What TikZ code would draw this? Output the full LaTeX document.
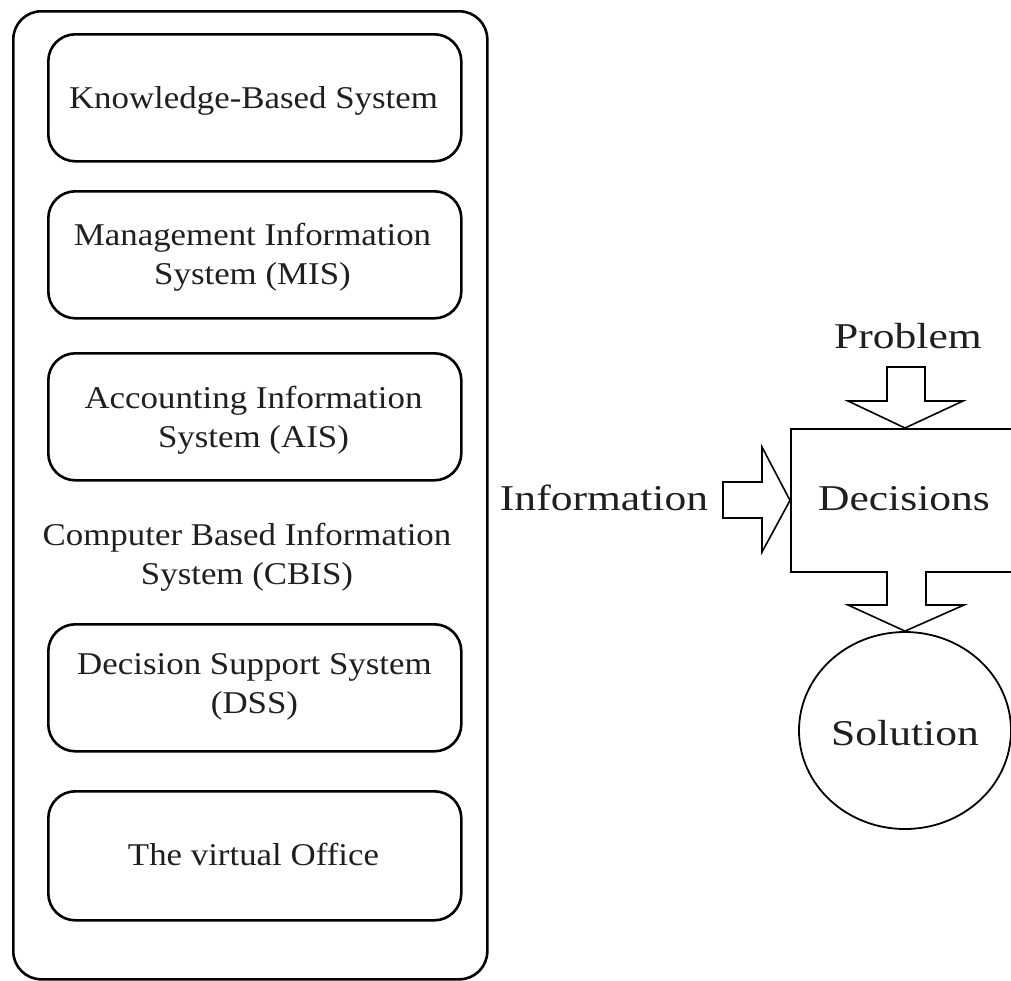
\documentclass[tikz,border=0pt]{standalone}
\usepackage{fontspec}
\setmainfont{Liberation Serif}
\newfontfamily\boxfont[FakeStretch=1.1]{Liberation Serif}
\newfontfamily\sidefont[FakeStretch=1.2]{Liberation Serif}
\usetikzlibrary{shapes.geometric}
\begin{document}
\begin{tikzpicture}[x=1pt,y=-1pt,
  panel/.style={draw, line width=2.6pt, rounded corners=28pt, inner sep=0pt,
    minimum width=474pt, minimum height=968pt, anchor=north west},
  sysbox/.style={draw, line width=2.6pt, rounded corners=27pt, inner sep=0pt,
    minimum width=413pt, minimum height=127pt, anchor=north west},
  boxlabel/.style={font=\boxfont\fontsize{31.7}{38.5}\selectfont, align=center,
    anchor=base, inner sep=0pt, text=black!88},
  sidelabel/.style={font=\sidefont\fontsize{36.3}{43}\selectfont,
    anchor=base, inner sep=0pt, text=black!88},
  blockarrow/.style={draw, line width=1.6pt, fill=white, line join=miter},
  plainbox/.style={draw, line width=1.8pt, inner sep=0pt, anchor=north west},
]
\useasboundingbox (0,0) rectangle (1011,980);
\clip (0,0) rectangle (1011,980);

% the enclosing CBIS panel with its member systems
\node[panel] (cbis) at (12,10) {};
\node[sysbox] (kbs) at (47,33) {};
\node[sysbox] (mis) at (47,190) {};
\node[sysbox] (ais) at (47,352) {};
\node[sysbox] (dss) at (47,623) {};
\node[sysbox, minimum height=129pt] (vo) at (47,790) {};

% two-line labels are placed by the baseline of their last line
\node[boxlabel] (kbsl) at (253.5,108) {Knowledge-Based System};
\node[boxlabel] (misl) at (252.5,284) {Management Information\\System (MIS)};
\node[boxlabel] (aisl) at (253.5,447) {Accounting Information\\System (AIS)};
\node[boxlabel] (cbisl) at (247,584) {Computer Based Information\\System (CBIS)};
\node[boxlabel] (dssl) at (254.5,713) {Decision Support System\\(DSS)};
\node[boxlabel] (vol) at (253.5,865) {The virtual Office};

% decision block, its inputs and output
\node[plainbox, minimum width=260pt, minimum height=143pt] (dec) at (790,428) {};
\node[draw, line width=1.8pt, ellipse, inner sep=0pt,
  minimum width=212pt, minimum height=197pt] (sol) at (905,730.5) {};

\node[sidelabel] (decl) at (904,510) {Decisions};
\node[sidelabel] (soll) at (905,745) {Solution};
\node[sidelabel] (probl) at (908,348) {Problem};
\node[sidelabel] (infol) at (604,510) {Information};

% block arrows
\draw[blockarrow] (887,367) -- (925,367) -- (925,401) -- (963,401)
  -- (dec.north -| sol.north) -- (848,401) -- (887,401) -- cycle;
\draw[blockarrow] (723,482) -- (762,482) -- (762,447) -- (dec.west)
  -- (762,552) -- (762,518) -- (723,518) -- cycle;
\draw[blockarrow] (887,571) -- (887,605) -- (848,605) -- (sol.north)
  -- (964,605) -- (926,605) -- (926,571);
\end{tikzpicture}
\end{document}
